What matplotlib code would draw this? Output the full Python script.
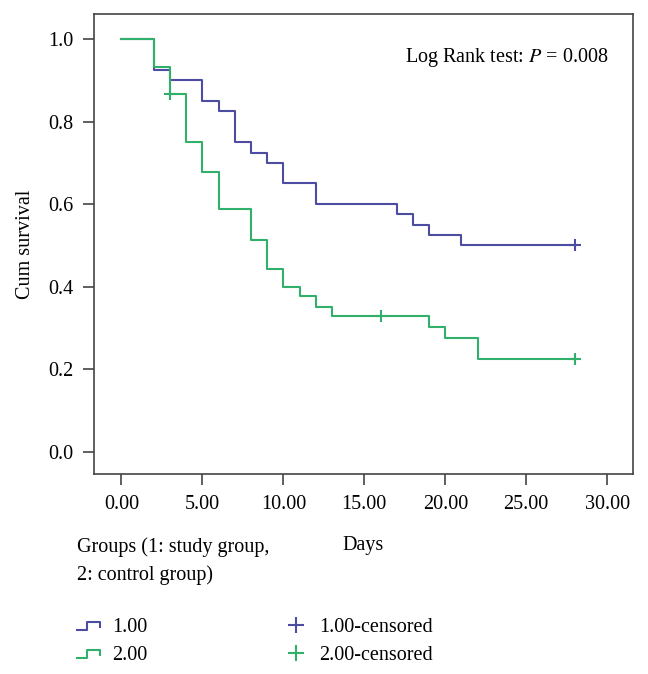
import matplotlib
matplotlib.use("Agg")
import matplotlib.pyplot as plt
from matplotlib.lines import Line2D
from matplotlib.legend_handler import HandlerBase

plt.rcParams["font.family"] = ["Liberation Serif", "DejaVu Serif"]
plt.rcParams["mathtext.fontset"] = "stix"

# Kaplan-Meier steps (days, cumulative survival)
study_days = [0, 2, 3, 5, 6, 7, 8, 9, 10, 12, 17, 18, 19, 21, 28]
study_surv = [1.0, 0.925, 0.90, 0.85, 0.825, 0.75, 0.725, 0.70, 0.65, 0.60, 0.575, 0.55, 0.525, 0.50, 0.50]
study_cens_days = [28]
study_cens_surv = [0.50]

control_days = [0, 2, 3, 4, 5, 6, 8, 9, 10, 11, 12, 13, 19, 20, 22, 28]
control_surv = [1.0, 0.933, 0.867, 0.75, 0.679, 0.588, 0.514, 0.443, 0.40, 0.377, 0.351, 0.328, 0.302, 0.276, 0.224, 0.224]
control_cens_days = [3, 16, 28]
control_cens_surv = [0.867, 0.328, 0.224]

x_ticks = [0, 5, 10, 15, 20, 25, 30]
y_ticks = [0.0, 0.2, 0.4, 0.6, 0.8, 1.0]

BLUE, GREEN = "#4c4ca2", "#30b06a"
DARK = "#444444"
FS = 14.5


class StepHandler(HandlerBase):
    """Small step-shaped legend icon, like the SPSS survival legend."""
    def create_artists(self, legend, orig, xd, yd, w, h, fontsize, trans):
        xs = [xd, xd + w * 0.45, xd + w * 0.45, xd + w, xd + w]
        ys = [yd + h * 0.15, yd + h * 0.15, yd + h * 0.7, yd + h * 0.7, yd + h * 0.4]
        line = Line2D(xs, ys, color=orig.get_color(), lw=1.5, transform=trans)
        return [line]


fig = plt.figure(figsize=(6.48, 6.74), dpi=100)
ax = fig.add_axes([0.145, 0.297, 0.832, 0.682])

ax.step(study_days, study_surv, where="post", color=BLUE, lw=1.5)
ax.step(control_days, control_surv, where="post", color=GREEN, lw=1.5)
ax.plot(study_cens_days, study_cens_surv, "+", color=BLUE, ms=9, mew=1.5)
ax.plot(control_cens_days, control_cens_surv, "+", color=GREEN, ms=9, mew=1.5)

ax.set_xlim(-1.7, 31.6)
ax.set_ylim(-0.053, 1.06)
ax.set_xticks(x_ticks)
ax.set_xticklabels([f"{t:.2f}" for t in x_ticks])
ax.set_yticks(y_ticks)
ax.set_yticklabels([f"{t:.1f}" for t in y_ticks])
ax.tick_params(length=8, width=1.2, color=DARK, labelsize=FS, pad=7)
for sp in ax.spines.values():
    sp.set_color(DARK)
    sp.set_linewidth(1.2)

ax.set_xlabel("Days", fontsize=FS, labelpad=16)
ax.set_ylabel("Cum survival", fontsize=FS, labelpad=9)
ax.text(0.954, 0.9065, "Log Rank test: $P$ = 0.008", transform=ax.transAxes,
        ha="right", va="center", fontsize=FS)

fig.text(77 / 648, 1 - 547 / 674, "Groups (1: study group,", ha="left", va="center", fontsize=FS)
fig.text(77 / 648, 1 - 575 / 674, "2: control group)", ha="left", va="center", fontsize=FS)

h1 = Line2D([], [], color=BLUE)
h2 = Line2D([], [], color=GREEN)
c1 = Line2D([], [], color=BLUE, marker="+", ls="none", ms=11, mew=1.5)
c2 = Line2D([], [], color=GREEN, marker="+", ls="none", ms=11, mew=1.5)
fig.legend([h1, h2, c1, c2], ["1.00", "2.00", "1.00-censored", "2.00-censored"],
           handler_map={h1: StepHandler(), h2: StepHandler()},
           loc="upper left", bbox_to_anchor=(0.106, 1 - 610 / 674), ncol=2,
           frameon=False, fontsize=FS, handlelength=1.15, handletextpad=0.6,
           columnspacing=6.8, labelspacing=0.45, borderaxespad=0)

fig.savefig("out.png", dpi=100)
